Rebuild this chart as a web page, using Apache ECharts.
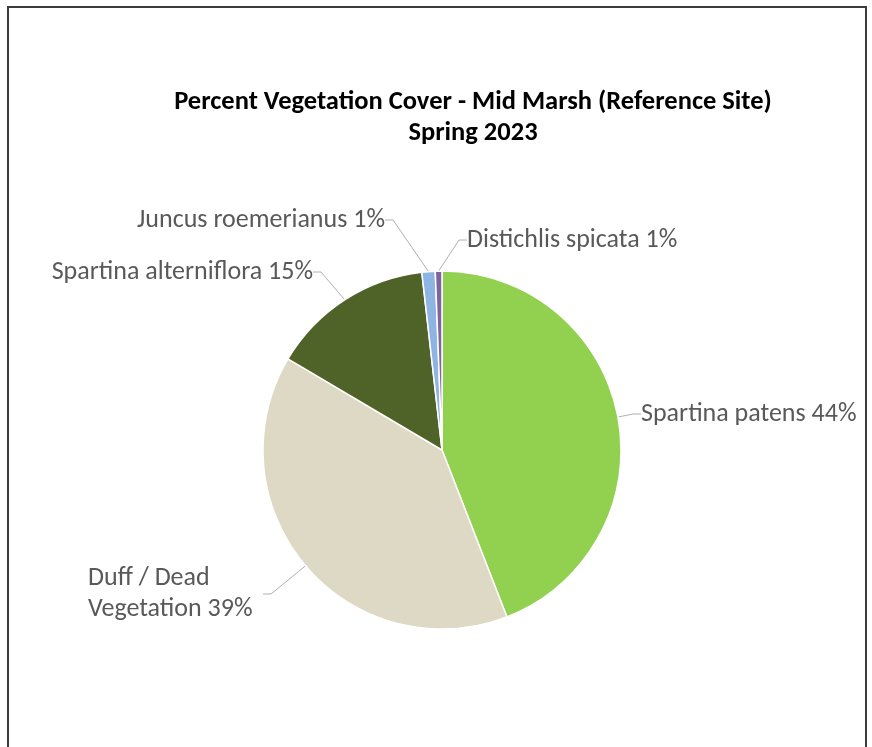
<!DOCTYPE html>
<html>
<head>
<meta charset="utf-8">
<script src="https://cdn.jsdelivr.net/npm/echarts@6/dist/echarts.min.js"></script>
<style>
html,body{margin:0;padding:0;background:#fff;}
#chart{width:872px;height:747px;}
</style>
</head>
<body>
<div id="chart"></div>
<script>
// values (percent of cover)
var names = ['Spartina patens','Duff / Dead Vegetation','Spartina alterniflora','Juncus roemerianus','Distichlis spicata'];
var values = [44.1, 39.4, 14.7, 1.2, 0.6];
var colors = ['#92D050','#DDD9C4','#4F6228','#8DB4E2','#8064A2'];

var FONT = 'Carlito, Lato, "Open Sans", sans-serif';

// where each label text sits (like the excel chart), lines follow
var labelPos = [
    {x: 641, y: 414, align: 'left'},
    {x: 88, y: 594, align: 'left'},
    {x: 313, y: 272, align: 'right'},
    {x: 385, y: 220, align: 'right'},
    {x: 467, y: 240, align: 'left'}
];

var pieData = [];
for (var i = 0; i < names.length; i++) {
    var item = {
        name: names[i],
        value: values[i],
        itemStyle: {color: colors[i]}
    };
    if (i == 1) {
        item.label = {width: 175, overflow: 'break'};
    }
    pieData.push(item);
}

var myChart = echarts.init(document.getElementById('chart'));
var options = {
    backgroundColor: '#fff',
    animation: false,
    title: {
        text: 'Percent Vegetation Cover - Mid Marsh (Reference Site)\nSpring 2023',
        left: 468,
        top: 82,
        textAlign: 'center',
        textStyle: {
            fontFamily: FONT,
            fontSize: 26.5,
            fontWeight: 'bold',
            color: '#000',
            lineHeight: 31
        }
    },
    graphic: [{
        type: 'rect',
        shape: {x: 8, y: 7, width: 858, height: 800},
        style: {fill: 'none', stroke: '#3c3c3c', lineWidth: 2},
        silent: true
    }],
    series: [{
        type: 'pie',
        center: [442, 450],
        radius: [0, 179],
        startAngle: 90,
        clockwise: true,
        avoidLabelOverlap: false,
        itemStyle: {borderColor: '#fff', borderWidth: 1.5},
        label: {
            show: true,
            position: 'outside',
            fontFamily: FONT,
            fontSize: 26,
            color: '#595959',
            lineHeight: 31,
            formatter: function (p) {
                return p.name + ' ' + Math.round(p.percent) + '%';
            }
        },
        labelLine: {
            show: true,
            length: 15,
            length2: 8,
            smooth: false,
            lineStyle: {color: '#b0b0b0', width: 1}
        },
        labelLayout: function (params) {
            var p = labelPos[params.dataIndex];
            return {x: p.x, y: p.y, align: p.align, verticalAlign: 'middle', hideOverlap: false};
        },
        emphasis: {disabled: true},
        data: pieData
    }]
};
myChart.setOption(options);
</script>
</body>
</html>
